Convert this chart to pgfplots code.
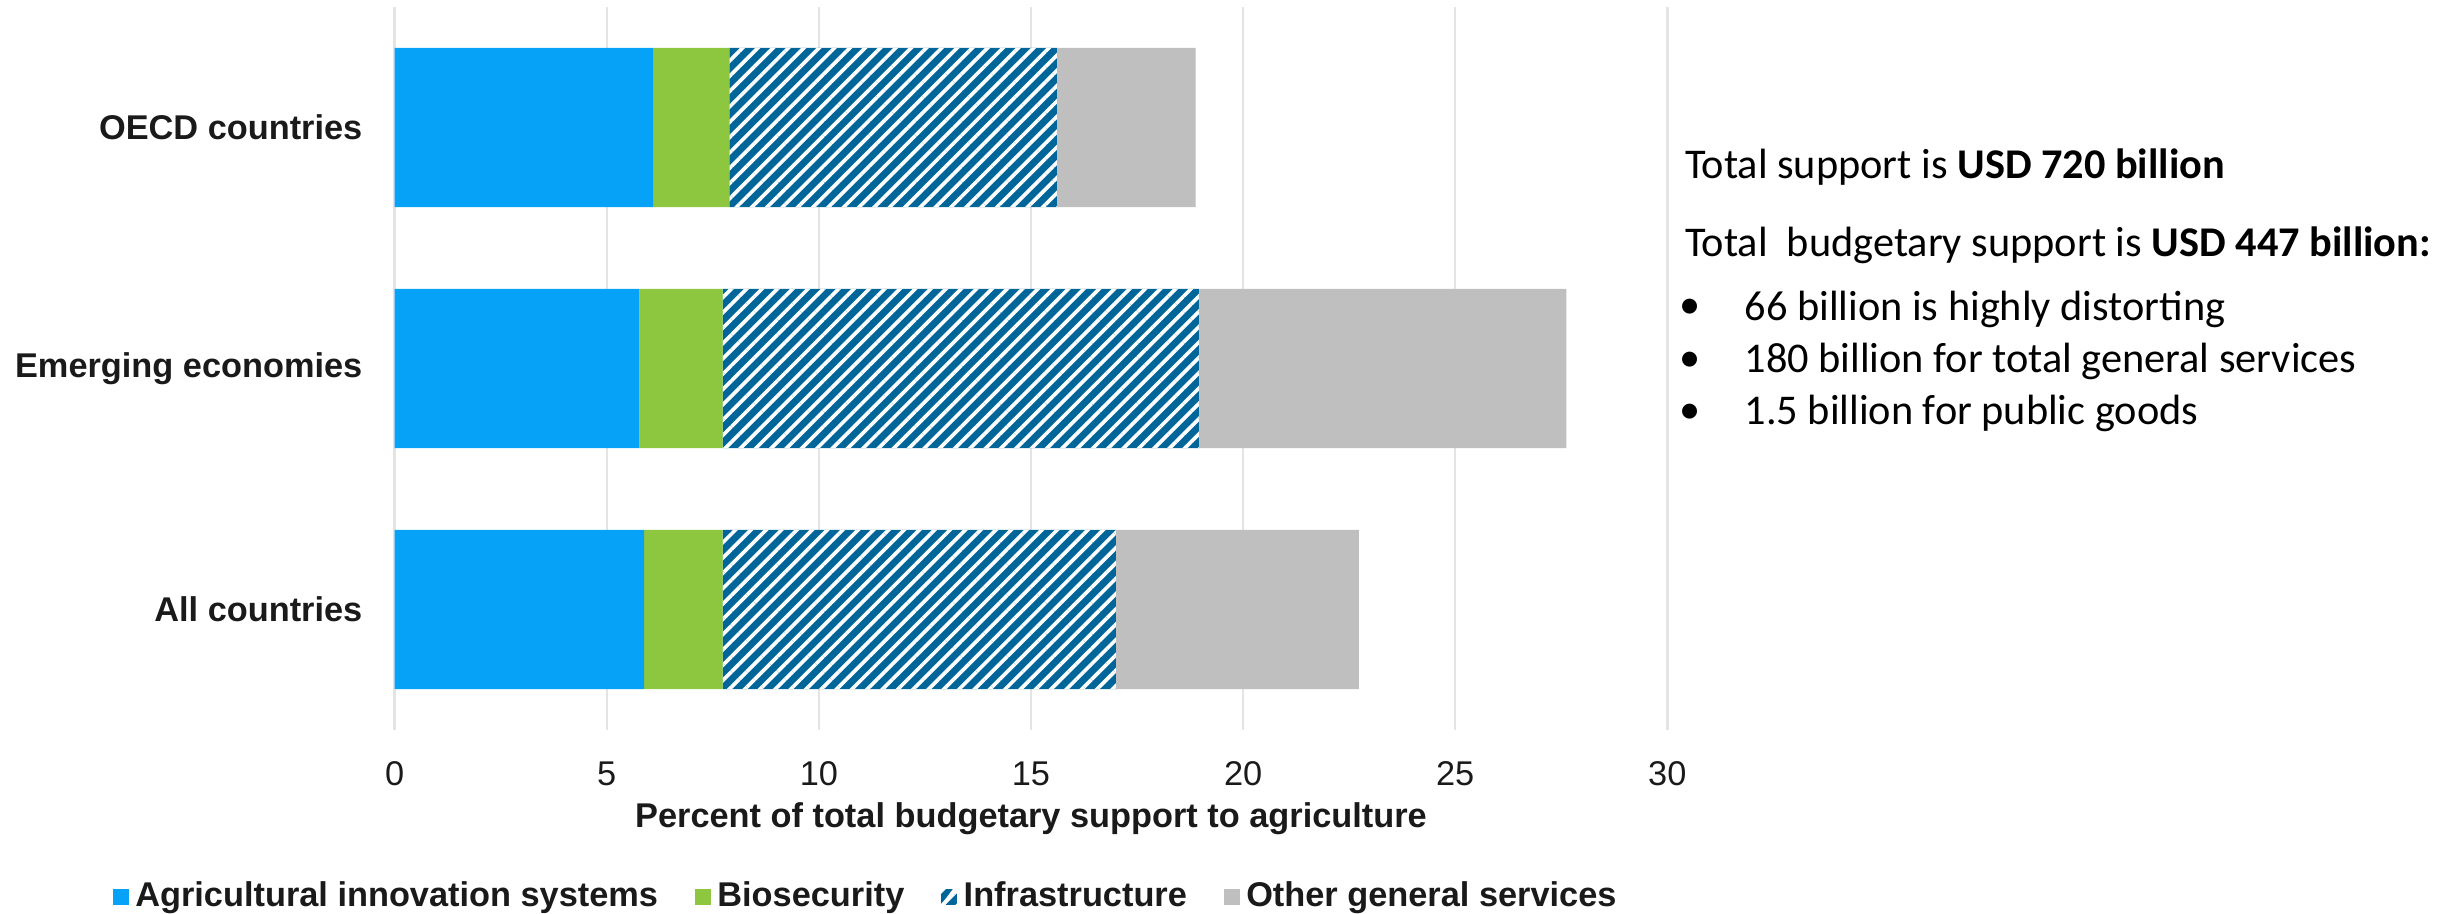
\documentclass[border=0pt]{standalone}
\usepackage{fontspec}
\setmainfont{Liberation Sans}
\newfontfamily\calfont{Carlito}
\usepackage{pgfplots}
\pgfplotsset{compat=1.18}
\usetikzlibrary{patterns.meta}
\definecolor{aisblue}{RGB}{5,162,248}
\definecolor{biogreen}{RGB}{141,198,63}
\definecolor{infblue}{RGB}{0,102,153}
\definecolor{othgray}{RGB}{191,191,191}
\definecolor{gridgray}{RGB}{228,228,228}
\definecolor{txt}{RGB}{26,26,26}
\begin{document}
\begin{tikzpicture}
\useasboundingbox (0pt,0pt) rectangle (733.8pt,273.9pt);
\begin{axis}[
  at={(118.4pt,54.9pt)}, anchor=south west,
  scale only axis, width=381.8pt, height=216.9pt,
  xbar stacked, bar width=0.66,
  xmin=0, xmax=30, ymin=-0.5, ymax=2.5,
  xtick={0,5,...,30},
  ytick={0,1,2},
  yticklabels={All countries, Emerging economies, OECD countries},
  xmajorgrids, major grid style={draw=gridgray, line width=0.7pt},
  axis line style={draw=none},
  tick style={draw=none},
  /pgf/number format/assume math mode=true,
  xticklabel style={font=\fontsize{10.3}{12}\selectfont, text=txt, anchor=base, yshift=-16.6pt, inner sep=0pt},
  yticklabel style={font=\bfseries\fontsize{10.3}{12}\selectfont, text=txt, anchor=east, xshift=-9.5pt, inner sep=0pt},
  xlabel={Percent of total budgetary support to agriculture},
  xlabel style={font=\bfseries\fontsize{10.3}{12}\selectfont, text=txt, at={(axis description cs:0.5,0)}, anchor=center, yshift=-26.5pt},
  legend style={at={(axis description cs:0,0)}, anchor=west, xshift=-84.8pt, yshift=-50.1pt,
    draw=none, fill=none, inner sep=0pt, font=\bfseries\fontsize{10.3}{12}\selectfont, text=txt,
    legend columns=-1, /tikz/every even column/.append style={column sep=9pt}},
]
\addplot[fill=aisblue, draw=none, legend image code/.code={\path[fill=aisblue] (0pt,-2.4pt) rectangle (4.8pt,2.4pt);}]
  coordinates {(5.88,0) (5.77,1) (6.09,2)};
\addlegendentry{Agricultural innovation systems}
\addplot[fill=biogreen, draw=none, legend image code/.code={\path[fill=biogreen] (0pt,-2.4pt) rectangle (4.8pt,2.4pt);}]
  coordinates {(1.85,0) (1.96,1) (1.80,2)};
\addlegendentry{Biosecurity}
\addplot[fill=infblue, draw=none,
  postaction={pattern={Lines[angle=45,distance=3.25pt,line width=1.1pt]}, pattern color=white},
  legend image code/.code={\path[fill=infblue] (0pt,-2.4pt) rectangle (4.8pt,2.4pt);
     \draw[white, line width=1pt] (0.6pt,-2.4pt) -- (4.2pt,2.4pt);}]
  coordinates {(9.27,0) (11.23,1) (7.72,2)};
\addlegendentry{Infrastructure}
\addplot[fill=othgray, draw=none, legend image code/.code={\path[fill=othgray] (0pt,-2.4pt) rectangle (4.8pt,2.4pt);}]
  coordinates {(5.73,0) (8.66,1) (3.27,2)};
\addlegendentry{Other general services}
\end{axis}
\begin{scope}[font=\calfont\fontsize{12.7}{15}\selectfont, text=black]
\node[anchor=west, inner sep=0pt] at (505.3pt,223.8pt) {Total support is \textbf{USD 720 billion}};
\node[anchor=west, inner sep=0pt] at (505.3pt,200.4pt) {Total\hspace{0.452em}budgetary support is \textbf{USD 447 billion:}};
\node[anchor=west, inner sep=0pt] at (503.5pt,181.2pt) {•};
\node[anchor=west, inner sep=0pt] at (523.2pt,181.2pt) {66 billion is highly distorting};
\node[anchor=west, inner sep=0pt] at (503.5pt,165.4pt) {•};
\node[anchor=west, inner sep=0pt] at (523.2pt,165.4pt) {180 billion for total general services};
\node[anchor=west, inner sep=0pt] at (503.5pt,149.8pt) {•};
\node[anchor=west, inner sep=0pt] at (523.2pt,149.8pt) {1.5 billion for public goods};
\end{scope}
\end{tikzpicture}
\end{document}
